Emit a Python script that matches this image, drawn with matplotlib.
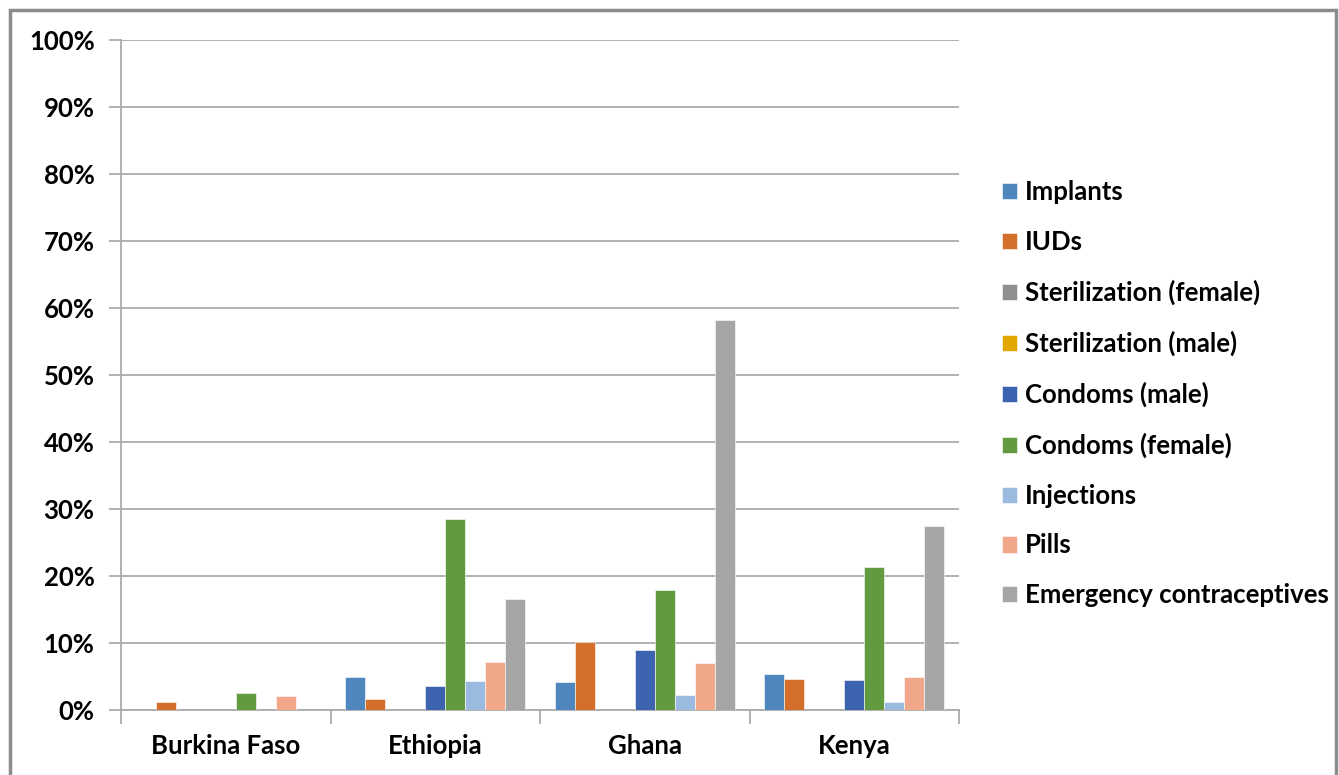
import numpy as np
import matplotlib.pyplot as plt
from matplotlib.patches import Rectangle
from matplotlib.ticker import FixedLocator, PercentFormatter

plt.rcParams['font.family'] = ['Lato', 'DejaVu Sans']

countries = ['Burkina Faso', 'Ethiopia', 'Ghana', 'Kenya']
methods = ['Implants', 'IUDs', 'Sterilization (female)', 'Sterilization (male)',
           'Condoms (male)', 'Condoms (female)', 'Injections', 'Pills',
           'Emergency contraceptives']

# percent of respondents, one list per method, in country order
implants = [0.0, 4.9, 4.2, 5.4]
iuds = [1.2, 1.7, 10.2, 4.6]
steril_female = [0.0, 0.0, 0.0, 0.0]
steril_male = [0.0, 0.0, 0.0, 0.0]
condoms_male = [0.0, 3.6, 8.9, 4.5]
condoms_female = [2.5, 28.5, 17.9, 21.4]
injections = [0.0, 4.4, 2.3, 1.2]
pills = [2.1, 7.1, 7.0, 5.0]
emergency = [0.0, 16.6, 58.2, 27.5]

series = [implants, iuds, steril_female, steril_male, condoms_male,
          condoms_female, injections, pills, emergency]
colors = ['#4F86BE', '#D36F2B', '#8F8F8F', '#E3A800', '#3C63AD',
          '#629A3F', '#9BBAE0', '#F1A88A', '#A6A6A6']

fs = 18.5

fig = plt.figure(figsize=(13.39, 7.75), dpi=100)
ax = fig.add_axes([121 / 1339, 65 / 775, (959 - 121) / 1339, 670 / 775])

x = np.arange(len(countries))
w = 1 / 10.5
for i, (vals, c) in enumerate(zip(series, colors)):
    ax.bar(x + (i - 4) * w, vals, width=w, color=c, label=methods[i],
           edgecolor='white', linewidth=0.4, zorder=3)

ax.set_xlim(-0.5, len(countries) - 0.5)
ax.set_ylim(0, 100)
ax.yaxis.set_major_locator(FixedLocator(np.arange(0, 101, 10)))
ax.yaxis.set_major_formatter(PercentFormatter(decimals=0))
ax.grid(axis='y', color='#ABABAB', linewidth=1.3, zorder=0)

ax.set_xticks(x)
ax.set_xticklabels(countries)
ax.set_xticks(np.arange(-0.5, len(countries)), minor=True)
ax.tick_params(axis='x', which='major', length=0, pad=17)
ax.tick_params(axis='x', which='minor', length=10, width=1.3, color='#ABABAB')
ax.tick_params(axis='y', length=9, width=1.3, color='#ABABAB', pad=10)
for lab in ax.get_xticklabels() + ax.get_yticklabels():
    lab.set_fontsize(fs)
    lab.set_fontweight('bold')

for s in ['top', 'right']:
    ax.spines[s].set_visible(False)
for s in ['left', 'bottom']:
    ax.spines[s].set_color('#ABABAB')
    ax.spines[s].set_linewidth(1.3)

leg = ax.legend(loc='center left', bbox_to_anchor=(0.731, 0.492),
                bbox_transform=fig.transFigure, frameon=False,
                prop={'size': fs, 'weight': 'bold'}, handlelength=0.6,
                handleheight=0.6, handletextpad=0.3, labelspacing=1.0)

fig.patches.append(Rectangle((10 / 1339, -0.02), 1326 / 1339, 1 - 10 / 775 + 0.02,
                             transform=fig.transFigure, fill=False,
                             edgecolor='#8C8C8C', linewidth=2.5))

fig.savefig('out.png', dpi=100)
